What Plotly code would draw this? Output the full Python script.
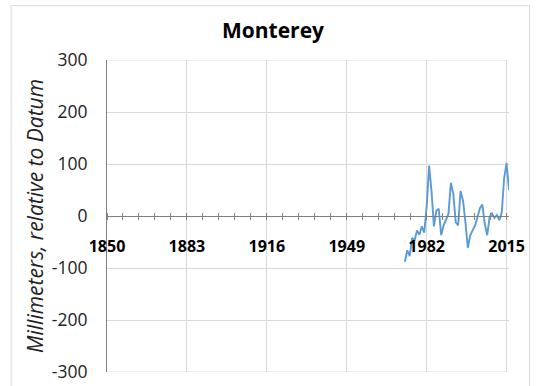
import numpy as np
import plotly.graph_objects as go

# Annual mean sea level at Monterey, mm relative to datum
years = list(range(1973, 2017))
levels = [-88, -66, -77, -42, -47, -28, -36, -20, -32, 18,
          97, 48, -20, 10, 14, -37, -18, -5, 4, 64,
          43, -12, -18, 48, 30, -12, -61, -37, -26, -18,
          -2, 15, 22, -15, -37, -2, 5, -4, 2, -8,
          6, 73, 102, 50]

x_ticks = [1850, 1883, 1916, 1949, 1982, 2015]
y_ticks = [-300, -200, -100, 0, 100, 200, 300]
y_labels = ["-300", "-200", "-100", "0", "100", "200", "300"]

W, H = 538, 386
ML, MR, MT, MB = 107, 28.6, 59.5, 14
AXIS_GREY = "#7f7f7f"
GRID = "#d9d9d9"
FONT = "Open Sans"

fig = go.Figure()
fig.add_trace(go.Scatter(x=years, y=levels, mode="lines",
                         line=dict(color="#5B9BD5", width=1.9),
                         hoverinfo="x+y", showlegend=False))
# empty trace so the upper tick axis is drawn
fig.add_trace(go.Scatter(x=[], y=[], xaxis="x2", showlegend=False))

x_range = [1850, 2016]
y_range = [-300, 300]
minor = dict(ticks="outside", ticklen=3, tick0=1850, dtick=6.6,
             tickcolor=AXIS_GREY, tickwidth=1, showgrid=False)

# gridlines at the top and bottom of the value range
edge_grid = [dict(type="line", xref="paper", yref="y", x0=0, x1=1, y0=v, y1=v,
                  line=dict(color=GRID, width=1), layer="below")
             for v in (y_range[0], y_range[1])]

fig.update_layout(
    width=W, height=H,
    margin=dict(l=ML, r=MR, t=MT, b=MB, pad=0),
    paper_bgcolor="white", plot_bgcolor="white",
    title=dict(text="<b>Monterey</b>", x=273 / W, xref="container",
               y=1 - 31 / H, yref="container", xanchor="center", yanchor="middle",
               automargin=False,
               font=dict(family=FONT, size=21, color="black")),
    xaxis=dict(range=x_range, tickvals=x_ticks, ticktext=[str(v) for v in x_ticks],
               anchor="free", position=0.5, automargin=False,
               showline=True, linecolor=AXIS_GREY, linewidth=1,
               ticks="outside", ticklen=3, tickcolor=AXIS_GREY,
               minor=minor,
               showgrid=True, gridcolor=GRID, gridwidth=1, zeroline=False,
               ticklabelstandoff=13,
               tickfont=dict(family=FONT, size=16, color="black", weight="bold")),
    xaxis2=dict(range=x_range, tickvals=x_ticks, overlaying="x", side="top",
                anchor="free", position=0.5, automargin=False,
                showline=False, ticks="outside", ticklen=3, tickcolor=AXIS_GREY,
                minor=minor, showgrid=False, zeroline=False, showticklabels=False),
    yaxis=dict(range=y_range, tickvals=y_ticks, ticktext=y_labels,
               automargin=False,
               showline=True, linecolor=AXIS_GREY, linewidth=1,
               showgrid=True, gridcolor=GRID, gridwidth=1, zeroline=False,
               ticks="", ticklabelstandoff=15,
               tickfont=dict(family=FONT, size=17.5, color="#222222")),
    annotations=[dict(text="<i>Millimeters, relative to Datum</i>",
                      x=(35 - ML) / (W - ML - MR), xref="paper", xanchor="center",
                      y=0.5, yref="paper", yanchor="middle",
                      textangle=-90, showarrow=False,
                      font=dict(family=FONT, size=21, color="#222222"))],
    shapes=[dict(type="rect", xref="paper", yref="paper",
                 x0=(11 - ML) / (W - ML - MR), x1=(530 - ML) / (W - ML - MR),
                 y0=-(MB + 10) / (H - MT - MB), y1=(H - MB - 5) / (H - MT - MB),
                 line=dict(color=GRID, width=1), fillcolor="rgba(0,0,0,0)",
                 layer="below")] + edge_grid,
)

fig.write_html("out.html")
